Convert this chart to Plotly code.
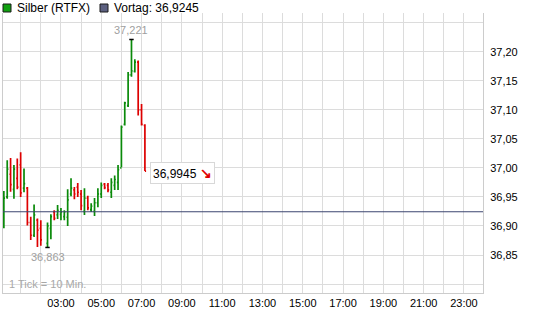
import plotly.graph_objects as go

# ---- data ----
bar_index = list(range(1, 13)) + list(range(14, 44))  # 10-minute bars since 00:00
opens = [36.915, 36.950, 36.989, 36.963, 36.982, 37.005, 36.965, 36.965, 36.906, 36.884,
         36.910, 36.896, 36.870, 36.896, 36.924, 36.919, 36.920, 36.916, 36.915, 36.955,
         36.962, 36.967, 36.955, 36.925, 36.948, 36.928, 36.925, 36.940, 36.955, 36.972,
         36.970, 36.958, 36.970, 36.975, 37.000, 37.075, 37.107, 37.160, 37.166, 37.182,
         37.100, 37.073]
highs = [36.960, 37.013, 37.017, 37.005, 37.016, 37.027, 36.999, 36.967, 36.916, 36.937,
         36.913, 36.910, 36.906, 36.920, 36.927, 36.936, 36.931, 36.927, 36.963, 36.982,
         36.967, 36.974, 36.962, 36.965, 36.952, 36.939, 36.948, 36.965, 36.975, 36.974,
         36.974, 36.982, 36.987, 37.005, 37.073, 37.114, 37.165, 37.221, 37.187, 37.185,
         37.110, 37.075]
lows = [36.896, 36.947, 36.959, 36.947, 36.963, 36.950, 36.958, 36.901, 36.876, 36.881,
        36.864, 36.866, 36.863, 36.877, 36.910, 36.912, 36.910, 36.910, 36.900, 36.951,
        36.946, 36.950, 36.927, 36.919, 36.927, 36.924, 36.917, 36.932, 36.948, 36.963,
        36.958, 36.948, 36.962, 36.962, 37.001, 37.073, 37.105, 37.157, 37.164, 37.090,
        37.073, 36.9945]
closes = [36.948, 36.998, 36.971, 36.998, 36.967, 36.957, 36.973, 36.906, 36.884, 36.919,
          36.893, 36.876, 36.900, 36.916, 36.913, 36.927, 36.924, 36.924, 36.945, 36.965,
          36.955, 36.958, 36.935, 36.948, 36.931, 36.934, 36.940, 36.955, 36.970, 36.966,
          36.962, 36.975, 36.980, 36.997, 37.070, 37.112, 37.160, 37.167, 37.182, 37.100,
          37.075, 36.9945]
prev_close = 36.9245
day_high = 37.221
day_low = 36.863
last_price = 36.9945

hour_ticks = list(range(0, 25))
hour_labels = ["" if (h < 3 or h % 2 == 0) else f"{h:02d}:00" for h in hour_ticks]
price_ticks = [36.80, 36.85, 36.90, 36.95, 37.00, 37.05, 37.10, 37.15, 37.20, 37.25]
price_labels = ["", "36,85", "36,90", "36,95", "37,00", "37,05", "37,10", "37,15", "37,20", ""]

times = [i / 6 for i in bar_index]

GREEN = "#0a8a0a"
RED = "#dd0000"
GRID = "#dcdcdc"
FONT = "Liberation Sans"

W, H = 545, 327
ML, MR, MT, MB = 3, 62, 13, 34


def px_x(px):
    return (px - ML) / (W - ML - MR)


def px_y(py):
    return (H - MB - py) / (H - MT - MB)


fig = go.Figure()
fig.add_trace(go.Ohlc(
    x=times, open=opens, high=highs, low=lows, close=closes,
    increasing=dict(line=dict(color=GREEN, width=1.7)),
    decreasing=dict(line=dict(color=RED, width=1.7)),
    tickwidth=0.35, hoverinfo="skip", showlegend=False,
))

i_max = highs.index(max(highs))
i_min = lows.index(min(lows))
half = 0.11
shapes = [
    dict(type="line", xref="paper", x0=0, x1=1, yref="y", y0=prev_close, y1=prev_close,
         line=dict(color="#3c4670", width=1.2)),
    dict(type="line", xref="x", x0=times[i_max] - half, x1=times[i_max] + half,
         yref="y", y0=day_high, y1=day_high, line=dict(color="black", width=1.5)),
    dict(type="line", xref="x", x0=times[i_min] - half, x1=times[i_min] + half,
         yref="y", y0=day_low, y1=day_low, line=dict(color="black", width=1.5)),
    # legend squares
    dict(type="rect", xref="paper", yref="paper", x0=px_x(3), x1=px_x(11), y0=px_y(12), y1=px_y(4),
         fillcolor="#10a010", line=dict(color="#1a1a1a", width=1)),
    dict(type="rect", xref="paper", yref="paper", x0=px_x(100), x1=px_x(108), y0=px_y(12), y1=px_y(4),
         fillcolor="#5c6080", line=dict(color="#1a1a1a", width=1)),
]

annotations = [
    dict(x=times[i_max], y=day_high, xref="x", yref="y", text="37,221", showarrow=False,
         yanchor="bottom", yshift=1, font=dict(family=FONT, size=11, color="#a0a0a0")),
    dict(x=times[i_min], y=day_low, xref="x", yref="y", text="36,863", showarrow=False,
         yanchor="top", yshift=-2, font=dict(family=FONT, size=11, color="#a0a0a0")),
    dict(x=times[-1], y=last_price, xref="x", yref="y",
         text="36,9945 <span style='color:#e00000;font-size:14px'><b>↘</b></span>", showarrow=False,
         xanchor="left", xshift=5, yshift=-2, bgcolor="white", bordercolor="#d8d8d8",
         borderwidth=1, borderpad=2, font=dict(family=FONT, size=12, color="black")),
    dict(x=0, y=0, xref="paper", yref="paper", text="1 Tick = 10 Min.", showarrow=False,
         xanchor="left", yanchor="bottom", xshift=4, yshift=1,
         font=dict(family=FONT, size=11, color="#a8a8a8")),
    dict(x=px_x(15), y=px_y(8), xref="paper", yref="paper", text="Silber (RTFX)", showarrow=False,
         xanchor="left", yanchor="middle", font=dict(family=FONT, size=12, color="black")),
    dict(x=px_x(112), y=px_y(8), xref="paper", yref="paper", text="Vortag: 36,9245", showarrow=False,
         xanchor="left", yanchor="middle", font=dict(family=FONT, size=12, color="black")),
]

x0 = (ML - 0.5) / 20.15
x1 = x0 + (W - ML - MR) / 20.15

fig.update_layout(
    width=W, height=H, margin=dict(l=ML, r=MR, t=MT, b=MB),
    paper_bgcolor="white", plot_bgcolor="white",
    shapes=shapes, annotations=annotations, showlegend=False,
    xaxis=dict(range=[x0, x1], tickvals=hour_ticks, ticktext=hour_labels,
               showgrid=True, gridcolor=GRID, gridwidth=1, zeroline=False,
               showline=True, linecolor="#cccccc", linewidth=1, ticks="",
               rangeslider=dict(visible=False),
               tickfont=dict(family=FONT, size=11, color="black")),
    yaxis=dict(range=[36.7846, 37.2666], side="right", tickvals=price_ticks, ticktext=price_labels,
               showgrid=True, gridcolor=GRID, gridwidth=1, zeroline=False,
               showline=True, mirror=True, linecolor="#cccccc", linewidth=1, ticks="",
               ticklabelstandoff=4,
               tickfont=dict(family=FONT, size=11, color="black")),
)

fig.write_html("out.html")
